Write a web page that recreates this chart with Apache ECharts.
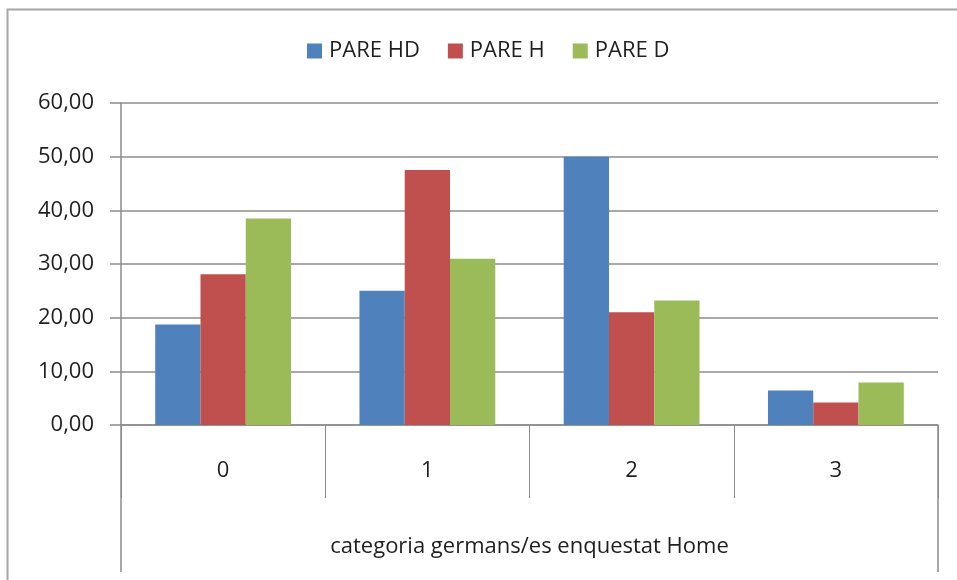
<!DOCTYPE html>
<html>
<head>
<meta charset="utf-8">
<script src="https://cdn.jsdelivr.net/npm/echarts@6/dist/echarts.min.js"></script>
<style>
  html, body { margin: 0; padding: 0; background: #fff; }
  #chart { width: 957px; height: 580px; }
</style>
</head>
<body>
<div id="chart"></div>
<script>
// Categories and series values
const categories = ['0', '1', '2', '3'];
const seriesNames = ['PARE HD', 'PARE H', 'PARE D'];
const pareHD = [18.75, 25.0, 50.0, 6.45];
const pareH = [28.1, 47.5, 21.0, 4.2];
const pareD = [38.5, 31.0, 23.2, 7.9];
const yTicks = { min: 0, max: 60, interval: 10 };
const axisTitle = 'categoria germans/es enquestat Home';

const colors = ['#4F81BD', '#C0504D', '#9BBB59'];
const gridColor = '#8c8c8c';
const textColor = '#1f1f1f';
const fontFamily = '"Open Sans", "Noto Sans", sans-serif';
const fontSize = 22;

const chart = echarts.init(document.getElementById('chart'), null, { renderer: 'canvas' });

const values = [pareHD, pareH, pareD];

chart.setOption({
  animation: false,
  color: colors,
  textStyle: { fontFamily: fontFamily, color: textColor },
  graphic: [{
    type: 'rect',
    left: 5,
    top: 7,
    shape: { width: 980, height: 600 },
    style: { fill: 'none', stroke: '#a6a6a6', lineWidth: 2 },
    silent: true
  }],
  legend: {
    top: 35,
    left: 302,
    itemWidth: 15,
    itemHeight: 15,
    itemGap: 28,
    icon: 'rect',
    textStyle: { fontSize: fontSize, color: textColor, fontFamily: fontFamily, padding: [0, 0, 0, 2] },
    data: seriesNames
  },
  grid: { left: 121, right: 19, top: 103, bottom: 155, containLabel: false },
  xAxis: [{
    type: 'category',
    data: categories,
    position: 'bottom',
    boundaryGap: true,
    axisLine: { show: true, lineStyle: { color: gridColor, width: 1.5 } },
    axisTick: { show: true, length: 73, lineStyle: { color: gridColor, width: 1 } },
    axisLabel: { margin: 35, fontSize: fontSize, color: textColor, fontFamily: fontFamily },
    name: axisTitle,
    nameLocation: 'middle',
    nameGap: 111,
    nameTextStyle: { fontSize: fontSize, color: textColor, fontFamily: fontFamily }
  }, {
    type: 'category',
    data: [''],
    position: 'bottom',
    boundaryGap: true,
    axisLine: { show: false },
    axisTick: { show: true, length: 147, lineStyle: { color: gridColor, width: 1.5 } },
    axisLabel: { show: false }
  }],
  yAxis: {
    type: 'value',
    min: yTicks.min,
    max: yTicks.max,
    interval: yTicks.interval,
    axisLine: { show: true, lineStyle: { color: gridColor, width: 1.5 } },
    axisTick: { show: true, inside: false, length: 11, lineStyle: { color: gridColor, width: 1.5 } },
    axisLabel: {
      margin: 27,
      fontSize: fontSize,
      color: textColor,
      fontFamily: fontFamily,
      formatter: v => v.toFixed(2).replace('.', ',')
    },
    splitLine: { show: true, lineStyle: { color: gridColor, width: 1.5 } }
  },
  series: seriesNames.map((name, i) => ({
    name: name,
    type: 'bar',
    xAxisIndex: 0,
    data: values[i],
    barGap: '0%',
    barCategoryGap: '33.5%',
    itemStyle: { color: colors[i] }
  }))
});
</script>
</body>
</html>
